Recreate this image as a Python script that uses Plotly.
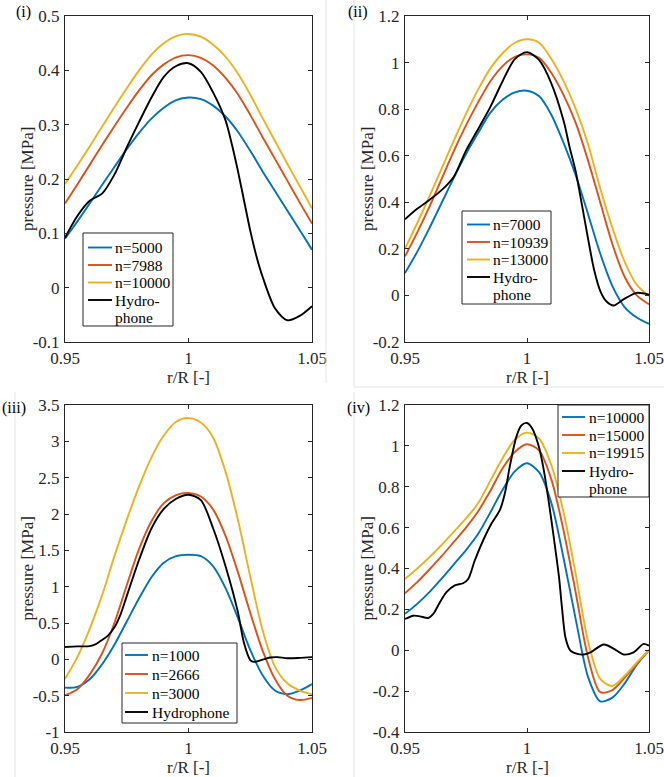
import plotly.graph_objects as go

# --- data ---
r_sim = [0.95, 0.955, 0.96, 0.965, 0.97, 0.975, 0.98, 0.985, 0.99, 0.995, 1.0,
         1.005, 1.01, 1.015, 1.02, 1.025, 1.03, 1.035, 1.04, 1.045, 1.05]

# (i)
p1_n5000 = [0.090, 0.122, 0.155, 0.189, 0.222, 0.255, 0.285, 0.311, 0.331, 0.345, 0.350,
            0.347, 0.335, 0.315, 0.287, 0.252, 0.214, 0.178, 0.142, 0.106, 0.070]
p1_n7988 = [0.155, 0.190, 0.226, 0.262, 0.297, 0.331, 0.363, 0.391, 0.411, 0.424, 0.428,
            0.423, 0.409, 0.386, 0.356, 0.318, 0.277, 0.237, 0.197, 0.157, 0.118]
p1_n10000 = [0.191, 0.225, 0.260, 0.296, 0.332, 0.367, 0.400, 0.429, 0.450, 0.463, 0.467,
             0.462, 0.447, 0.425, 0.394, 0.355, 0.312, 0.270, 0.228, 0.187, 0.146]
p1_hyd_r = [0.95, 0.955, 0.96, 0.965, 0.97, 0.975, 0.98, 0.985, 0.99, 0.995, 1.0,
            1.005, 1.01, 1.015, 1.0175, 1.02, 1.0225, 1.025, 1.0275, 1.03, 1.035, 1.04, 1.045, 1.05]
p1_hyd = [0.092, 0.132, 0.160, 0.173, 0.208, 0.258, 0.305, 0.350, 0.388, 0.408, 0.413,
          0.397, 0.359, 0.308, 0.265, 0.215, 0.160, 0.105, 0.058, 0.020, -0.038, -0.060, -0.052, -0.034]

# (ii)
p2_n7000 = [0.096, 0.187, 0.289, 0.397, 0.505, 0.607, 0.698, 0.785, 0.840, 0.872, 0.879,
            0.855, 0.775, 0.655, 0.515, 0.350, 0.180, 0.040, -0.050, -0.095, -0.122]
p2_n10939 = [0.168, 0.270, 0.380, 0.500, 0.620, 0.730, 0.830, 0.920, 0.985, 1.025, 1.035,
             1.020, 0.955, 0.860, 0.740, 0.580, 0.400, 0.220, 0.080, 0.000, -0.038]
p2_n13000 = [0.201, 0.310, 0.425, 0.545, 0.665, 0.780, 0.885, 0.975, 1.040, 1.085, 1.100,
             1.085, 1.015, 0.920, 0.800, 0.650, 0.460, 0.290, 0.145, 0.045, -0.002]
p2_hyd_r = [0.95, 0.955, 0.96, 0.965, 0.97, 0.975, 0.98, 0.985, 0.99, 0.995, 1.0,
            1.005, 1.01, 1.015, 1.0175, 1.02, 1.0225, 1.025, 1.0275, 1.03, 1.0325, 1.0355, 1.0395, 1.045, 1.05]
p2_hyd = [0.327, 0.372, 0.410, 0.452, 0.510, 0.622, 0.715, 0.810, 0.920, 1.015, 1.045,
          1.010, 0.910, 0.750, 0.635, 0.530, 0.390, 0.245, 0.110, 0.020, -0.025, -0.043, -0.017, 0.011, 0.003]

# (iii)
p3_n1000 = [-0.390, -0.378, -0.275, -0.070, 0.200, 0.520, 0.840, 1.130, 1.330, 1.420, 1.440,
            1.420, 1.280, 0.980, 0.570, 0.130, -0.220, -0.430, -0.480, -0.430, -0.340]
p3_n2666 = [-0.495, -0.410, -0.210, 0.080, 0.500, 1.020, 1.520, 1.900, 2.150, 2.260, 2.290,
            2.240, 2.060, 1.700, 1.200, 0.640, 0.120, -0.270, -0.500, -0.560, -0.530]
p3_n3000 = [-0.270, 0.030, 0.420, 0.880, 1.420, 1.920, 2.380, 2.780, 3.080, 3.270, 3.320,
            3.260, 3.050, 2.580, 1.920, 1.140, 0.400, -0.100, -0.330, -0.430, -0.480]
p3_hyd_r = [0.95, 0.955, 0.96, 0.9625, 0.965, 0.9675, 0.97, 0.9725, 0.975, 0.98, 0.985, 0.99, 0.995, 1.0,
            1.005, 1.01, 1.015, 1.02, 1.0225, 1.025, 1.0265, 1.03, 1.033, 1.036, 1.04, 1.045, 1.05]
p3_hyd = [0.170, 0.178, 0.182, 0.210, 0.265, 0.330, 0.440, 0.620, 0.870, 1.370, 1.800, 2.070, 2.210, 2.265,
          2.190, 1.800, 1.280, 0.650, 0.220, -0.010, -0.035, -0.005, 0.025, 0.030, 0.015, 0.020, 0.030]

# (iv)
p4_n10000 = [0.178, 0.227, 0.284, 0.350, 0.420, 0.490, 0.570, 0.675, 0.785, 0.875, 0.915,
             0.870, 0.720, 0.450, 0.150, -0.130, -0.250, -0.232, -0.163, -0.070, 0.000]
p4_n15000 = [0.279, 0.333, 0.395, 0.460, 0.530, 0.600, 0.680, 0.780, 0.890, 0.970, 1.008,
             0.977, 0.835, 0.585, 0.280, -0.035, -0.205, -0.195, -0.135, -0.065, 0.000]
p4_n19915 = [0.349, 0.400, 0.455, 0.515, 0.580, 0.645, 0.720, 0.830, 0.940, 1.030, 1.065,
             1.035, 0.905, 0.675, 0.370, 0.045, -0.140, -0.175, -0.125, -0.060, 0.000]
p4_hyd_r = [0.95, 0.9534, 0.9561, 0.9595, 0.9616, 0.9643, 0.967, 0.9704, 0.9738, 0.9759, 0.9786,
            0.982, 0.9854, 0.9888, 0.9909, 0.9929, 0.9956, 0.9977, 1.0, 1.0022, 1.0049, 1.0069,
            1.009, 1.011, 1.0131, 1.0144, 1.0158, 1.0178, 1.0206, 1.0233, 1.026, 1.0315, 1.0356,
            1.0396, 1.0437, 1.0478, 1.05]
p4_hyd = [0.153, 0.169, 0.166, 0.158, 0.178, 0.235, 0.284, 0.317, 0.328, 0.349, 0.439,
          0.537, 0.619, 0.684, 0.766, 0.896, 1.043, 1.100, 1.112, 1.084, 0.994, 0.880,
          0.720, 0.550, 0.360, 0.200, 0.060, -0.002, -0.018, -0.021, -0.010, 0.028, 0.007,
          -0.021, -0.010, 0.031, 0.023]

x_ticks = [0.95, 1.0, 1.05]
x_ticktext = ["0.95", "1", "1.05"]
y1_ticks = [-0.1, 0, 0.1, 0.2, 0.3, 0.4, 0.5]
y1_text = ["-0.1", "0", "0.1", "0.2", "0.3", "0.4", "0.5"]
y2_ticks = [-0.2, 0, 0.2, 0.4, 0.6, 0.8, 1.0, 1.2]
y2_text = ["-0.2", "0", "0.2", "0.4", "0.6", "0.8", "1", "1.2"]
y3_ticks = [-1, -0.5, 0, 0.5, 1, 1.5, 2, 2.5, 3, 3.5]
y3_text = ["-1", "-0.5", "0", "0.5", "1", "1.5", "2", "2.5", "3", "3.5"]
y4_ticks = [-0.4, -0.2, 0, 0.2, 0.4, 0.6, 0.8, 1.0, 1.2]
y4_text = ["-0.4", "-0.2", "0", "0.2", "0.4", "0.6", "0.8", "1", "1.2"]

BLUE, ORANGE, YELLOW = "#0072BD", "#D95319", "#EDB120"
AX = "#262626"
FONT = "Liberation Serif, Times New Roman, Times, serif"
W, H = 664, 777

panels = [
    dict(xa="x", ya="y",
         series=[("n=5000", r_sim, p1_n5000, BLUE), ("n=7988", r_sim, p1_n7988, ORANGE),
                 ("n=10000", r_sim, p1_n10000, YELLOW), ("Hydro-<br>phone", p1_hyd_r, p1_hyd, "black")]),
    dict(xa="x2", ya="y2",
         series=[("n=7000", r_sim, p2_n7000, BLUE), ("n=10939", r_sim, p2_n10939, ORANGE),
                 ("n=13000", r_sim, p2_n13000, YELLOW), ("Hydro-<br>phone", p2_hyd_r, p2_hyd, "black")]),
    dict(xa="x3", ya="y3",
         series=[("n=1000", r_sim, p3_n1000, BLUE), ("n=2666", r_sim, p3_n2666, ORANGE),
                 ("n=3000", r_sim, p3_n3000, YELLOW), ("Hydrophone", p3_hyd_r, p3_hyd, "black")]),
    dict(xa="x4", ya="y4",
         series=[("n=10000", r_sim, p4_n10000, BLUE), ("n=15000", r_sim, p4_n15000, ORANGE),
                 ("n=19915", r_sim, p4_n19915, YELLOW), ("Hydro-<br>phone", p4_hyd_r, p4_hyd, "black")]),
]

fig = go.Figure()
for p in panels:
    for name, xs, ys, col in p["series"]:
        fig.add_trace(go.Scatter(x=xs, y=ys, mode="lines", name=name.replace("<br>", ""),
                                 xaxis=p["xa"], yaxis=p["ya"], showlegend=False,
                                 line=dict(color=col, width=1.9, shape="spline", smoothing=0.8)))

# plot areas in pixels: left, right, top, bottom
boxes = [(65, 312, 16, 342), (405, 649, 16, 342), (65, 312, 405, 732), (405, 649, 405, 732)]
yticks = [(y1_ticks, y1_text, [-0.1, 0.5]), (y2_ticks, y2_text, [-0.2, 1.2]),
          (y3_ticks, y3_text, [-1, 3.5]), (y4_ticks, y4_text, [-0.4, 1.2])]

axis_common = dict(showgrid=False, zeroline=False, showline=True, linecolor=AX, linewidth=1,
                   mirror="ticks", ticks="inside", ticklen=4, tickcolor=AX, automargin=False,
                   tickfont=dict(family=FONT, size=17, color=AX))
layout = {}
annotations = []
shapes = []


def px_x(v):
    return v / W


def px_y(v):
    return 1 - v / H


for i, ((l, r, t, b), (tv, tt, rng)) in enumerate(zip(boxes, yticks)):
    k = "" if i == 0 else str(i + 1)
    layout["xaxis" + k] = dict(axis_common, domain=[l / W, r / W], range=[0.95, 1.05],
                               tickvals=x_ticks, ticktext=x_ticktext, anchor="y" + k,
                               ticklabelstandoff=1)
    layout["yaxis" + k] = dict(axis_common, domain=[1 - b / H, 1 - t / H], range=rng,
                               tickvals=tv, ticktext=tt, anchor="x" + k, ticklabelstandoff=1)
    annotations.append(dict(text="pressure [MPa]", x=px_x(l - 38), y=px_y((t + b) / 2), textangle=-90,
                            xanchor="center", yanchor="middle", xref="paper", yref="paper",
                            showarrow=False, font=dict(family=FONT, size=17, color=AX)))
    annotations.append(dict(text="r/R [-]", x=px_x((l + r) / 2), y=px_y(b + 35),
                            xanchor="center", yanchor="middle", xref="paper", yref="paper",
                            showarrow=False, font=dict(family=FONT, size=17, color=AX)))

tags = [("(i)", 23, 12), ("(ii)", 358, 12), ("(iii)", 14, 408), ("(iv)", 358, 408)]
for txt, px, py in tags:
    annotations.append(dict(text=txt, x=px_x(px), y=px_y(py), xref="paper", yref="paper",
                            xanchor="center", yanchor="middle",
                            showarrow=False, font=dict(family=FONT, size=16, color="black")))

# MATLAB-style legend boxes: box (l, r, t, b), sample line x0-x1, text x, row centres
legend_boxes = [
    dict(box=(83, 173, 233, 326), line=(88, 112), tx=114, rows=[247.5, 265, 282.5, 300]),
    dict(box=(462, 551, 211, 304), line=(467, 490), tx=492, rows=[224.5, 242, 259.5, 277]),
    dict(box=(122, 237, 643, 723), line=(125, 148), tx=151, rows=[655, 674, 693, 712]),
    dict(box=(558, 649, 405, 497), line=(562, 585), tx=588, rows=[417, 435, 453, 471]),
]
LINE_STEP = 17.5
for p, lg in zip(panels, legend_boxes):
    l, r, t, b = lg["box"]
    shapes.append(dict(type="rect", xref="paper", yref="paper", x0=px_x(l), x1=px_x(r),
                       y0=px_y(b), y1=px_y(t), fillcolor="white", layer="above",
                       line=dict(color=AX, width=1)))
    for (name, _, _, col), ry in zip(p["series"], lg["rows"]):
        shapes.append(dict(type="line", xref="paper", yref="paper", layer="above",
                           x0=px_x(lg["line"][0]), x1=px_x(lg["line"][1]), y0=px_y(ry), y1=px_y(ry),
                           line=dict(color=col, width=1.9)))
        for j, part in enumerate(name.split("<br>")):
            annotations.append(dict(text=part, x=px_x(lg["tx"]), y=px_y(ry + j * LINE_STEP),
                                    xref="paper", yref="paper", xanchor="left", yanchor="middle",
                                    borderpad=0, showarrow=False,
                                    font=dict(family=FONT, size=15.5, color="black")))

# faint borders of the original sub-figure images
for x0, y0, x1, y1 in [(326, 0, 326, 383), (354, 0, 354, 387), (354, 387, 664, 387),
                       (15, 392, 15, 777), (354, 392, 354, 777)]:
    shapes.append(dict(type="line", xref="paper", yref="paper", x0=px_x(x0), x1=px_x(x1),
                       y0=px_y(y0), y1=px_y(y1), line=dict(color="#e2e2e2", width=1)))

fig.update_layout(width=W, height=H, margin=dict(l=0, r=0, t=0, b=0, autoexpand=False),
                  paper_bgcolor="white", plot_bgcolor="white",
                  annotations=annotations, shapes=shapes, **layout)

fig.write_html("out.html", config={"displayModeBar": False},
               post_script="document.body.style.margin='0';")
